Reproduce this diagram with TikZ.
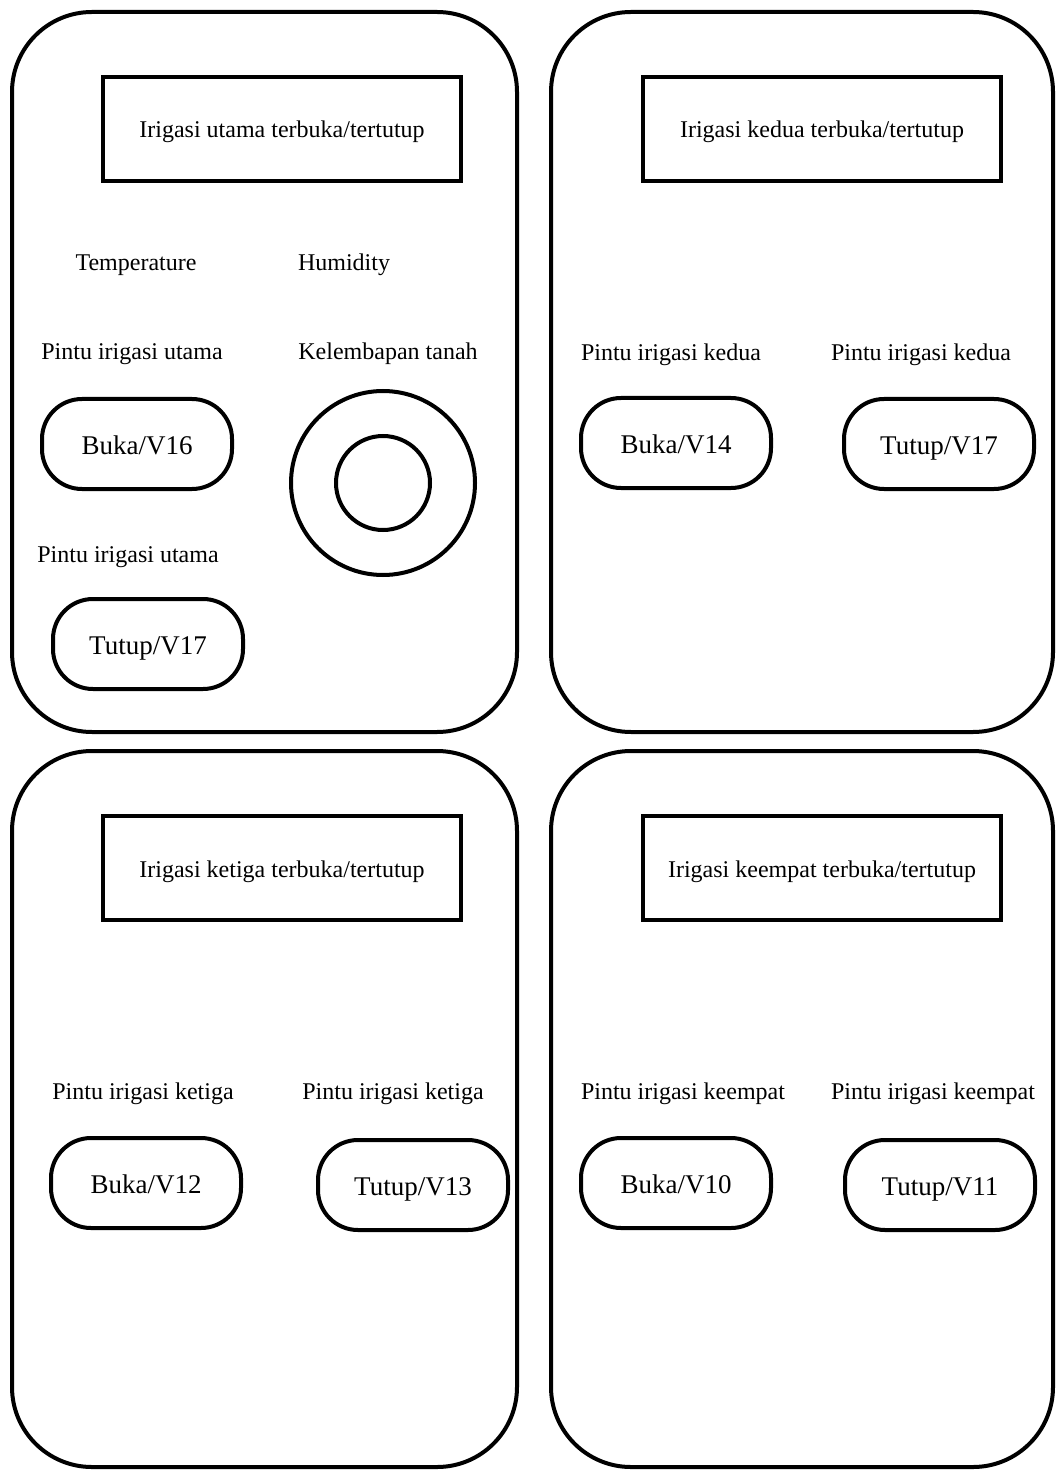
\documentclass[tikz,border=0pt]{standalone}
\usepackage{fontspec}
\setmainfont{Liberation Serif}

\begin{document}
\begin{tikzpicture}[x=0.5pt,y=-0.5pt,line width=2pt,
  panel/.style={rounded corners=40pt},
  titlebox/.style={draw,minimum width=179pt,minimum height=52pt,text height=12pt,text depth=3pt,font=\fontsize{12}{14}\selectfont},
  btn/.style={draw,rounded corners=20pt,minimum width=95pt,minimum height=45pt,text height=13pt,text depth=3pt,font=\fontsize{13.5}{16}\selectfont},
  lbl/.style={text height=11pt,text depth=3pt,font=\fontsize{12}{14}\selectfont},
  ring/.style={draw,circle,inner sep=0pt}]
  \useasboundingbox (0,0) rectangle (1056,1470);
  % four panels
  \draw[panel] (12,12) rectangle (517,732);
  \draw[panel] (551,12) rectangle (1053,732);
  \draw[panel] (12,751) rectangle (517,1467);
  \draw[panel] (551,751) rectangle (1053,1467);

  % panel 1
  \node[titlebox] (titleA) at (282,129){Irigasi utama terbuka/tertutup};
  \node[lbl] (tempA) at (136,263){Temperature};
  \node[lbl] (humA) at (344,263){Humidity};
  \node[lbl] (gateA) at (132,352){Pintu irigasi utama};
  \node[lbl] (soilA) at (388,352){Kelembapan tanah};
  \node[btn] (openA) at (137,444){Buka/V16};
  \node[lbl] (gateAb) at (128,554){Pintu irigasi utama};
  \node[btn] (closeA) at (148,644){Tutup/V17};
  \node[ring,minimum size=92pt] (gaugeA) at (383,483){};
  \node[ring,minimum size=47pt] (gaugeAin) at (383,483){};

  % panel 2
  \node[titlebox] (titleB) at (822,129){Irigasi kedua terbuka/tertutup};
  \node[lbl] (gateB) at (671,353){Pintu irigasi kedua};
  \node[lbl] (gateBb) at (921,353){Pintu irigasi kedua};
  \node[btn] (openB) at (676,443){Buka/V14};
  \node[btn] (closeB) at (939,444){Tutup/V17};

  % panel 3
  \node[titlebox] (titleC) at (282,868){Irigasi ketiga terbuka/tertutup};
  \node[lbl] (gateC) at (143,1091){Pintu irigasi ketiga};
  \node[lbl] (gateCb) at (393,1091){Pintu irigasi ketiga};
  \node[btn] (openC) at (146,1183){Buka/V12};
  \node[btn] (closeC) at (413,1185){Tutup/V13};

  % panel 4
  \node[titlebox] (titleD) at (822,868){Irigasi keempat terbuka/tertutup};
  \node[lbl] (gateD) at (683,1091){Pintu irigasi keempat};
  \node[lbl] (gateDb) at (933,1091){Pintu irigasi keempat};
  \node[btn] (openD) at (676,1183){Buka/V10};
  \node[btn] (closeD) at (940,1185){Tutup/V11};
\end{tikzpicture}
\end{document}
